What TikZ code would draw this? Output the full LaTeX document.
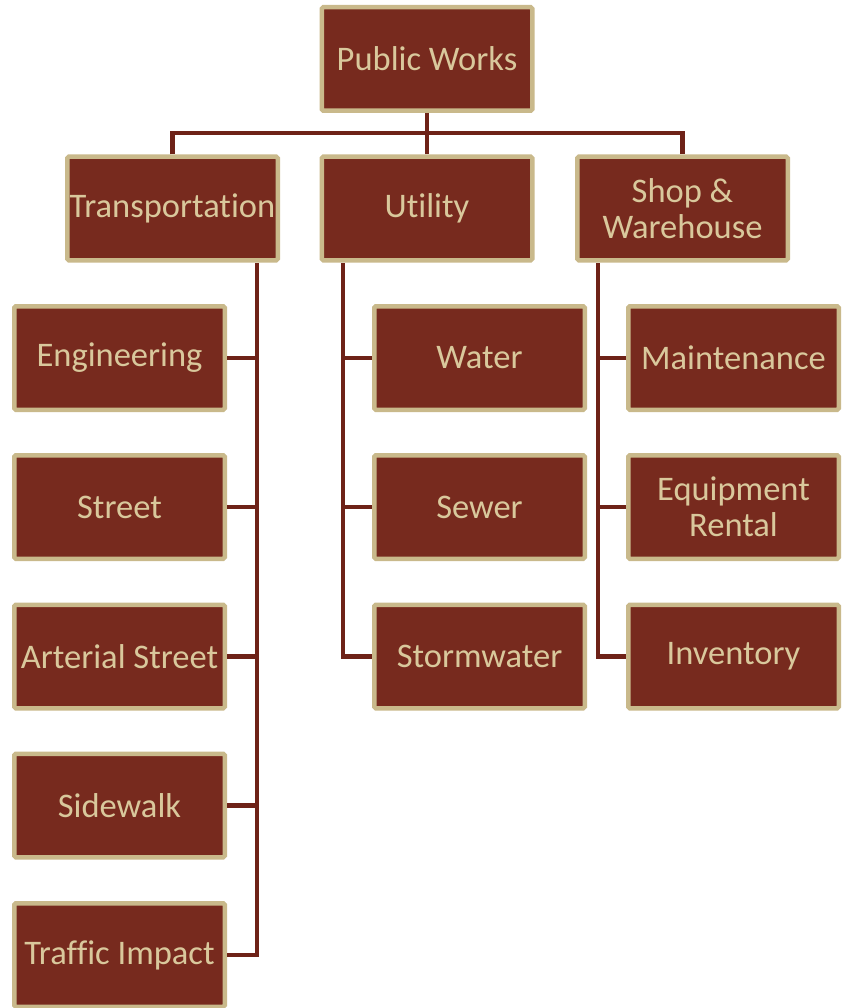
\documentclass[tikz,border=0pt]{standalone}
\usepackage{fontspec}
\setmainfont{Carlito}[Ligatures=NoCommon]
\definecolor{boxfill}{HTML}{772A1E}
\definecolor{boxedge}{HTML}{C9B98B}
\definecolor{boxtext}{HTML}{D9C89C}
\definecolor{linkcol}{HTML}{6E2218}
\tikzset{
  unit/.style={rectangle, rounded corners=1.5pt, fill=boxfill, draw=boxedge,
    line width=4.5pt, minimum width=210.5pt, minimum height=103.5pt,
    inner sep=0pt, text=boxtext, align=center,
    font=\fontsize{34.5}{35.5}\selectfont},
  link/.style={draw=linkcol, line width=4.5pt, line join=miter}
}
\begin{document}
\begin{tikzpicture}[x=1pt,y=-1pt]
\useasboundingbox (0,0) rectangle (841,1008);
% top level
\node[unit] (pw) at (427,59) {Public Works};
% divisions
\node[unit] (tr) at (172.5,208.5) {Transportation};
\node[unit] (ut) at (427,208.5) {Utility};
\node[unit] (sh) at (682.5,208.5) {Shop \&\\Warehouse};
% transportation sections
\node[unit] (eng) at (119.5,358) {Engineering};
\node[unit] (st)  at (119.5,507) {Street};
\node[unit] (art) at (119.5,656.5) {Arterial Street};
\node[unit] (sw)  at (119.5,805.5) {Sidewalk};
\node[unit] (ti)  at (119.5,955) {Traffic Impact};
% utility sections
\node[unit] (wat) at (479.5,358) {Water};
\node[unit] (sew) at (479.5,507) {Sewer};
\node[unit] (stw) at (479.5,656.5) {Stormwater};
% shop sections
\node[unit] (mnt) at (733.5,358) {Maintenance};
\node[unit] (eqr) at (733.5,507) {Equipment\\Rental};
\node[unit] (inv) at (733.5,656.5) {Inventory};
% bus under the top box
\coordinate (bus) at (427,133);
\draw[link] (pw.south) -- (bus);
\draw[link] (tr.north) |- (bus) -| (sh.north);
\draw[link] (ut.north) -- (ut.north |- bus);
% spines below each division
\coordinate (trj) at (257,263);
\coordinate (utj) at (343,263);
\coordinate (shj) at (598,263);
\draw[link] (trj) |- (ti.east);
\foreach \n in {eng,st,art,sw} \draw[link] (\n.east) -- (\n.east -| trj);
\draw[link] (utj) |- (stw.west);
\foreach \n in {wat,sew} \draw[link] (\n.west) -- (\n.west -| utj);
\draw[link] (shj) |- (inv.west);
\foreach \n in {mnt,eqr} \draw[link] (\n.west) -- (\n.west -| shj);
\end{tikzpicture}
\end{document}
